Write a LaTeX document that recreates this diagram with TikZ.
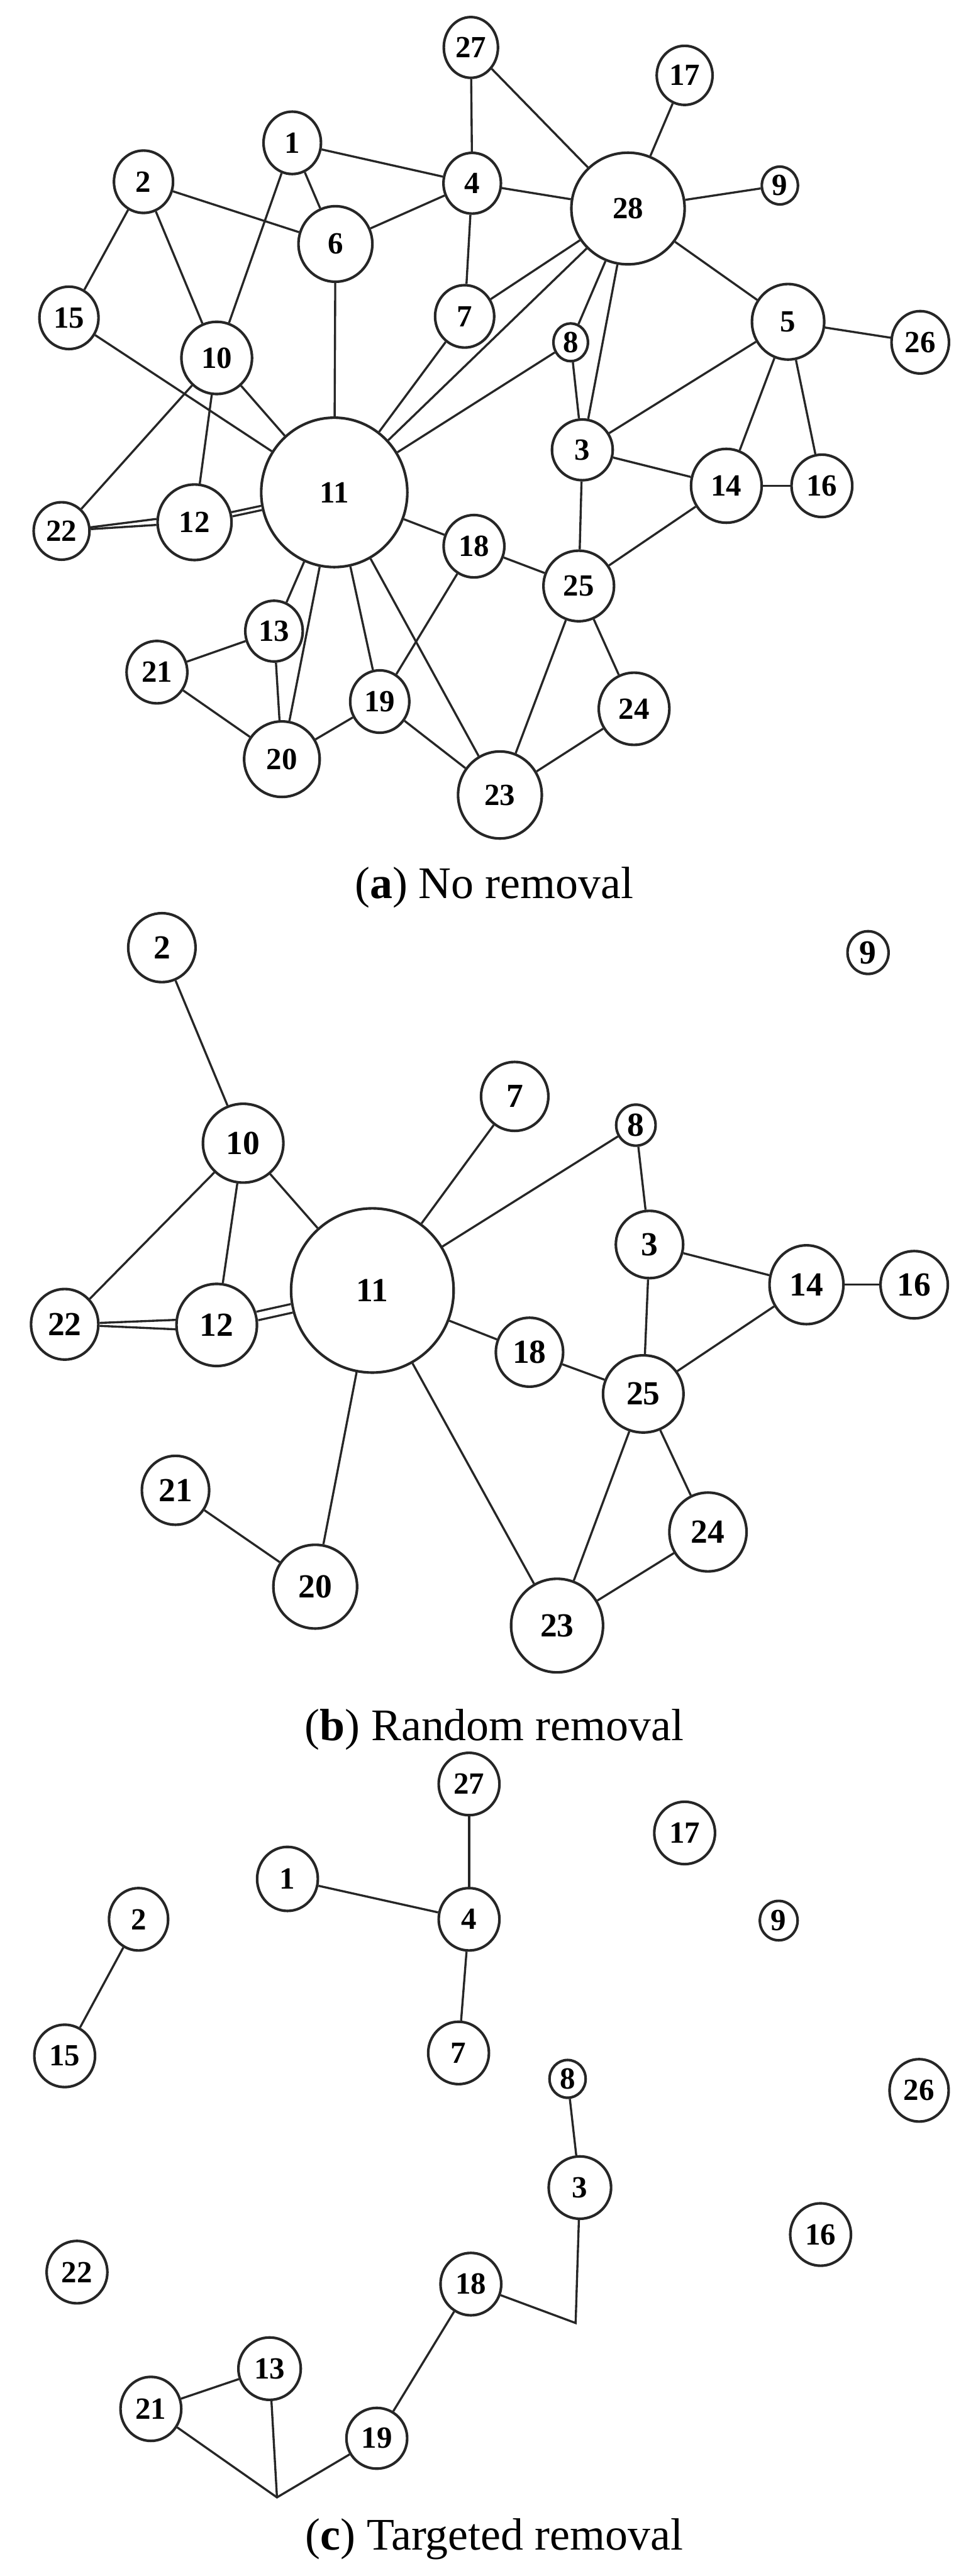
\documentclass[tikz,border=0pt]{standalone}
\usepackage{fontspec}
\setmainfont{Liberation Serif}
\usepackage{tikz}
\usetikzlibrary{shapes.geometric}
\definecolor{netline}{HTML}{262626}
\newcommand{\numfont}{\fontsize{16}{16}\selectfont\bfseries}
\newcommand{\numfontbig}{\fontsize{17.5}{17.5}\selectfont\bfseries}
\newcommand{\capfont}{\fontsize{23.5}{23.5}\selectfont}

\begin{document}
\begin{tikzpicture}[x=0.03cm, y=-0.03cm,
    vertex/.style={ellipse, draw=netline, line width=1.35pt, fill=white, inner sep=0pt, font=\numfont},
    link/.style={draw=netline, line width=1.1pt},
    twin/.style={link, double, double distance=1.1pt},
    caption/.style={font=\capfont, anchor=base, inner sep=0pt}]
  \useasboundingbox (0,0) rectangle (588,1569);

  % (a) no removal
  \foreach \n/\x/\y/\w/\h in {1/178/87/35/38, 2/87.4/110.7/36/38, 3/354.7/274/37/37,
      4/287.6/111.6/35/37, 5/480/196/44/46, 6/204.3/148.6/45/46, 7/283/192.7/36/38,
      8/347.6/208.5/21/23, 9/475/113/22/23, 10/132/218/43/44, 11/203.6/299.9/89/91,
      12/118.5/318.1/45/46, 13/166.9/384.4/35/37, 14/442.4/295.9/43/45, 15/42/193.6/36/38,
      16/500.6/295.9/37/38, 17/417/45.9/34/36, 18/288.7/332.7/37/38, 19/231.3/427.3/36/38,
      20/171.7/462.4/46/46, 21/95.6/409.4/37/38, 22/37.5/323.4/34/35, 23/304.5/484.2/51/53,
      24/386.2/431.7/43/44, 25/352.5/356.9/43/43, 26/560.5/208.5/35/38, 27/286.8/28.9/33/37,
      28/382.5/127/69/68} {
    \node[vertex, minimum width=\w*0.03cm, minimum height=\h*0.03cm] (a\n) at (\x,\y) {\n};
  }
  \foreach \s/\t in {27/4, 27/28, 17/28, 1/4, 1/6, 1/10, 2/6, 2/15, 2/10, 4/6, 4/28, 4/7,
      28/9, 28/7, 28/11, 28/8, 28/3, 28/5, 5/26, 5/3, 5/14, 5/16, 6/11, 15/11, 10/11,
      10/22, 10/12, 7/11, 8/11, 8/3, 3/14, 3/25, 14/16, 14/25, 11/18, 11/13, 11/20,
      11/19, 11/23, 18/25, 18/19, 25/23, 25/24, 24/23, 13/21, 13/20, 21/20, 20/19, 19/23} {
    \draw[link] (a\s) -- (a\t);
  }
  \draw[link] (a22) -- (a12.175);
  \draw[link] (a22) -- (a12.184);
  \draw[twin] (a12) -- (a11);
  \node[caption] (capa) at (301,547) {(\textbf{a}) No removal};

  % (b) random removal
  \foreach \n/\x/\y/\w/\h in {2/98.6/577.2/41/42, 3/395.6/758/41/41, 7/313.5/667.8/41/42,
      8/387.3/685.3/24/25, 9/528.7/580.2/25/26, 10/148.1/696.3/49/48, 11/226.8/786/99/100,
      12/132/807/49/50, 14/491.2/782.5/45/48, 16/556.8/782.5/41/41, 18/322.5/823.6/41/42,
      20/192/966.4/51/51, 21/106.9/907.7/41/42, 22/39.4/806.6/41/43, 23/339.3/990.1/56/57,
      24/431.2/933.1/47/48, 25/391.8/849/49/47} {
    \node[vertex, font=\numfontbig, minimum width=\w*0.03cm, minimum height=\h*0.03cm] (b\n) at (\x,\y) {\n};
  }
  \foreach \s/\t in {2/10, 10/22, 10/12, 10/11, 7/11, 8/11, 8/3, 3/14, 3/25, 14/16, 14/25,
      11/18, 18/25, 11/20, 11/23, 21/20, 25/23, 25/24, 24/23} {
    \draw[link] (b\s) -- (b\t);
  }
  \draw[link] (b22) -- (b12.173);
  \draw[link] (b22) -- (b12.186);
  \draw[twin, double distance=3.4pt] (b12) -- (b11);
  \node[caption] (capb) at (301,1060) {(\textbf{b}) Random removal};

  % (c) targeted removal
  \foreach \n/\x/\y/\w/\h in {1/175.1/1144.4/37/39, 2/84.4/1169/36/38, 3/353.2/1332.4/38/38,
      4/285.7/1169/37/38, 7/279.3/1250.4/37/38, 8/345.7/1266.2/22/23, 9/474.3/1169.8/23/24,
      13/164.2/1442.7/38/38, 15/39.4/1252.2/37/38, 16/499.8/1361/37/38, 17/417/1116.4/37/38,
      18/286.8/1391.2/37/38, 19/229.5/1485.1/37/37, 21/91.9/1467.2/37/39,
      22/46.9/1383.9/37/38, 26/559.8/1273.2/36/38, 27/285.7/1086.6/37/38} {
    \node[vertex, minimum width=\w*0.03cm, minimum height=\h*0.03cm] (c\n) at (\x,\y) {\n};
  }
  \coordinate (cbend1) at (350.6,1414.9);
  \coordinate (cbend2) at (168.7,1521.1);
  \foreach \s/\t in {27/4, 1/4, 4/7, 2/15, 8/3, 18/19, 13/21} {
    \draw[link] (c\s) -- (c\t);
  }
  \draw[link] (c3) -- (cbend1) -- (c18);
  \draw[link] (c21) -- (cbend2) -- (c19);
  \draw[link] (c13) -- (cbend2);
  \node[caption] (capc) at (301,1553) {(\textbf{c}) Targeted removal};
\end{tikzpicture}
\end{document}
